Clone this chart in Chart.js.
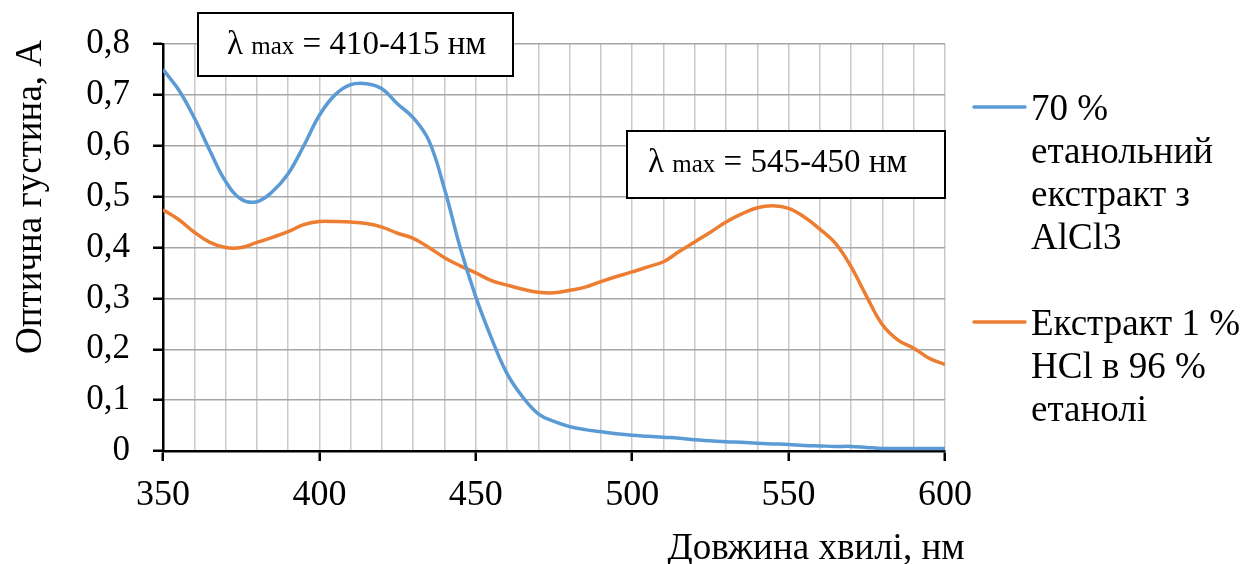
<!DOCTYPE html>
<html>
<head>
<meta charset="utf-8">
<script src="https://cdn.jsdelivr.net/npm/chart.js@4.4.1/dist/chart.umd.min.js"></script>
<style>
  html, body { margin: 0; padding: 0; background: #fff; }
  #wrap { width: 1247px; height: 564px; position: relative; }
</style>
</head>
<body>
<div id="wrap"><canvas id="chart"></canvas></div>
<script>
// --- дані ---
const wavelengths = [350, 355, 360, 365, 370, 375, 380, 385, 390, 395, 400, 405, 410, 415, 420, 425, 430, 435, 440, 445,
  450, 455, 460, 465, 470, 475, 480, 485, 490, 495, 500, 505, 510, 515, 520, 525, 530, 535, 540, 545,
  550, 555, 560, 565, 570, 575, 580, 585, 590, 595, 600];

const alcl3Values = [0.750, 0.710, 0.655, 0.590, 0.530, 0.495, 0.490, 0.510, 0.545, 0.600, 0.660, 0.700, 0.720, 0.722, 0.712, 0.682, 0.655, 0.610, 0.515, 0.400,
  0.303, 0.222, 0.152, 0.106, 0.073, 0.058, 0.048, 0.042, 0.038, 0.034, 0.031, 0.029, 0.027, 0.025, 0.022, 0.020, 0.018, 0.017, 0.015, 0.014,
  0.013, 0.011, 0.010, 0.009, 0.009, 0.007, 0.005, 0.005, 0.005, 0.005, 0.005];

const hclValues = [0.474, 0.455, 0.430, 0.410, 0.400, 0.400, 0.410, 0.420, 0.431, 0.445, 0.451, 0.451, 0.450, 0.447, 0.440, 0.428, 0.418, 0.400, 0.380, 0.364,
  0.350, 0.335, 0.326, 0.318, 0.312, 0.311, 0.316, 0.322, 0.333, 0.343, 0.352, 0.362, 0.372, 0.392, 0.411, 0.430, 0.450, 0.466, 0.478, 0.482,
  0.477, 0.460, 0.436, 0.408, 0.362, 0.303, 0.248, 0.218, 0.202, 0.182, 0.170];

const seriesLabels = [
  ['70 %', 'етанольний', 'екстракт з', 'AlCl3'],
  ['Екстракт 1 %', 'HCl в 96 %', 'етанолі']
];
const seriesColors = ['#5B9BD5', '#ED7D31'];
const annotations = [
  { range: '410-415 нм' },
  { range: '545-450 нм' }
];
const xTitle = 'Довжина хвилі, нм';
const yTitle = 'Оптична густина, А';

// --- налаштування ---
const FONT = "'Liberation Serif', 'Times New Roman', serif";
Chart.defaults.font.family = FONT;
Chart.defaults.color = '#000';

const toPoints = (vals) => wavelengths.map((x, i) => ({ x: x, y: vals[i] }));

// малює легенду, підписи осей і рамки з λmax
const overlayPlugin = {
  id: 'overlay',
  afterDraw(chart) {
    const ctx = chart.ctx;
    ctx.save();
    ctx.fillStyle = '#000';
    ctx.textBaseline = 'alphabetic';

    // назва осі X
    ctx.font = '37px ' + FONT;
    ctx.textAlign = 'center';
    ctx.fillText(xTitle, 816, 559);

    // назва осі Y
    ctx.save();
    ctx.translate(41, 197);
    ctx.rotate(-Math.PI / 2);
    ctx.fillText(yTitle, 0, 0);
    ctx.restore();

    // легенда
    ctx.textAlign = 'left';
    const legendTops = [120, 335];
    seriesLabels.forEach((lines, i) => {
      const base = legendTops[i];
      ctx.strokeStyle = seriesColors[i];
      ctx.lineWidth = 3.5;
      ctx.lineCap = 'round';
      ctx.beginPath();
      ctx.moveTo(974, base - 13);
      ctx.lineTo(1025, base - 13);
      ctx.stroke();
      ctx.font = '37px ' + FONT;
      lines.forEach((t, j) => ctx.fillText(t, 1031, base + j * 43));
    });

    // рамки з λmax
    const boxes = [
      { l: 198, t: 13, r: 513, b: 76, tx: 227, ty: 54 },
      { l: 627, t: 131, r: 945, b: 198, tx: 648, ty: 172 }
    ];
    boxes.forEach((bx, i) => {
      ctx.fillStyle = '#fff';
      ctx.fillRect(bx.l, bx.t, bx.r - bx.l, bx.b - bx.t);
      ctx.strokeStyle = '#000';
      ctx.lineWidth = 2;
      ctx.strokeRect(bx.l, bx.t, bx.r - bx.l, bx.b - bx.t);
      ctx.fillStyle = '#000';
      let x = bx.tx;
      ctx.font = '33px ' + FONT;
      ctx.fillText('λ ', x, bx.ty);
      x += ctx.measureText('λ ').width;
      ctx.font = '25px ' + FONT;
      ctx.fillText('max', x, bx.ty);
      x += ctx.measureText('max').width;
      ctx.font = '33px ' + FONT;
      ctx.fillText(' = ' + annotations[i].range, x, bx.ty);
    });
    ctx.restore();
  }
};

new Chart(document.getElementById('chart'), {
  type: 'line',
  data: {
    datasets: [
      {
        label: seriesLabels[0].join(' '),
        data: toPoints(alcl3Values),
        borderColor: seriesColors[0],
        borderWidth: 3.5,
        pointRadius: 0,
        tension: 0.4,
        fill: false
      },
      {
        label: seriesLabels[1].join(' '),
        data: toPoints(hclValues),
        borderColor: seriesColors[1],
        borderWidth: 3.5,
        pointRadius: 0,
        tension: 0.4,
        fill: false
      }
    ]
  },
  options: {
    responsive: true,
    maintainAspectRatio: false,
    animation: false,
    layout: { padding: { top: 44, right: 302, left: 0, bottom: 0 } },
    plugins: {
      legend: { display: false },
      tooltip: { enabled: false }
    },
    scales: {
      x: {
        type: 'linear',
        min: 350,
        max: 600,
        afterFit: (s) => { s.height = 113; },
        ticks: {
          stepSize: 10,
          autoSkip: false,
          maxRotation: 0,
          padding: 13,
          font: { size: 36 },
          callback: (v) => (v % 50 === 0 ? String(v) : '')
        },
        grid: {
          color: (c) => (c.tick && c.tick.value === 350 ? 'transparent' : '#c9c9c9'),
          tickColor: (c) => (c.tick && c.tick.value % 50 === 0 ? '#000' : 'transparent'),
          lineWidth: 1.5,
          tickLength: 10,
          tickWidth: 2.5
        },
        border: { color: '#000', width: 2.5 }
      },
      y: {
        min: 0,
        max: 0.8,
        afterFit: (s) => { s.width = 163; },
        ticks: {
          stepSize: 0.1,
          padding: 23,
          font: { size: 35 },
          callback: (v) => (Math.abs(v) < 1e-9 ? '0' : v.toFixed(1).replace('.', ','))
        },
        grid: {
          color: (c) => (c.tick && Math.abs(c.tick.value) < 1e-9 ? 'transparent' : '#a6a6a6'),
          tickColor: '#000',
          lineWidth: 1.5,
          tickLength: 10,
          tickWidth: 2.5
        },
        border: { color: '#000', width: 2.5 }
      }
    }
  },
  plugins: [overlayPlugin]
});
</script>
</body>
</html>
